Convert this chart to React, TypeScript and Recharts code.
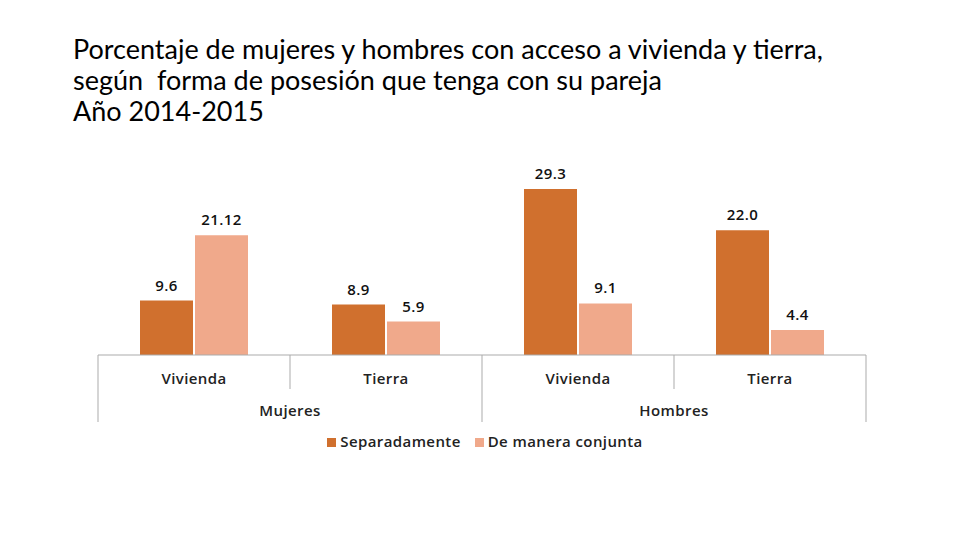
import React from "react"
import { BarChart, Bar, XAxis, YAxis, Legend, LabelList } from "recharts"

const categories = ["Vivienda", "Tierra", "Vivienda", "Tierra"]
const groups = ["Mujeres", "Mujeres", "Hombres", "Hombres"]
const separadamente = [9.6, 8.9, 29.3, 22.0]
const conjunta = [21.12, 5.9, 9.1, 4.4]
const sepLabels = ["9.6", "8.9", "29.3", "22.0"]
const conjLabels = ["21.12", "5.9", "9.1", "4.4"]

const data = categories.map((cat, i) => ({
  cat,
  grp: groups[i],
  sep: separadamente[i],
  conj: conjunta[i],
  sepLabel: sepLabels[i],
  conjLabel: conjLabels[i],
}))

const DARK = "#D0702E"
const LIGHT = "#F0A98B"
const GRID = "#ABABAB"
const FONT = "'Open Sans', sans-serif"
const HALF = 96 // half of one category band
const TXT = { fontFamily: FONT, fontSize: 15, fontWeight: 600, letterSpacing: 0.4 }

function CatTick(props: any) {
  const { x, y, payload, index } = props
  const outer = index === 0 || index === 2
  return (
    <g>
      <line x1={x - HALF} x2={x - HALF} y1={y} y2={y + (outer ? 67 : 34)} stroke={GRID} />
      {index === 3 && <line x1={x + HALF} x2={x + HALF} y1={y} y2={y + 67} stroke={GRID} />}
      <text x={x} y={y + 29} textAnchor="middle" fill="#222" style={TXT}>
        {payload.value}
      </text>
    </g>
  )
}

function GrpTick(props: any) {
  const { x, y, payload } = props
  return (
    <text x={x} y={y + 28} textAnchor="middle" fill="#222" style={TXT}>
      {payload.value}
    </text>
  )
}

export default function App() {
  return (
    <div style={{ position: "absolute", left: 0, top: 0, width: 960, height: 540, background: "#fff" }}>
      <div style={{ position: "absolute", left: 73, top: 33, fontFamily: "Lato, sans-serif", fontSize: 27, lineHeight: "31px", color: "#000" }}>
        <div>Porcentaje de mujeres y hombres con acceso a vivienda y tierra,</div>
        <div style={{ whiteSpace: "pre" }}>según  forma de posesión que tenga con su pareja</div>
        <div>Año 2014-2015</div>
      </div>
      <div style={{ position: "absolute", left: 0, top: 0 }}>
        <BarChart width={960} height={540} data={data} margin={{ top: 185, right: 94, left: 98, bottom: 98 }} barGap={2} barSize={53}>
          <YAxis hide domain={[0, 30]} />
          <XAxis dataKey="cat" axisLine={{ stroke: GRID }} tickLine={false} tickSize={0} tickMargin={0} height={33} tick={<CatTick />} interval={0} />
          <XAxis xAxisId="grp" dataKey="grp" allowDuplicatedCategory={false} axisLine={false} tickLine={false} tickSize={0} tickMargin={0} height={34} tick={<GrpTick />} interval={0} />
          <Legend
            verticalAlign="bottom"
            iconType="square"
            iconSize={9}
            itemSorter={null as any}
            wrapperStyle={{ top: 431, left: 12, width: 960, ...TXT }}
            formatter={(v: string) => <span style={{ color: "#222", marginRight: 4 }}>{v}</span>}
          />
          <Bar dataKey="sep" name="Separadamente" fill={DARK} isAnimationActive={false}>
            <LabelList dataKey="sepLabel" position="top" offset={10} style={{ ...TXT, fill: "#111" }} />
          </Bar>
          <Bar dataKey="conj" name="De manera conjunta" fill={LIGHT} isAnimationActive={false}>
            <LabelList dataKey="conjLabel" position="top" offset={10} style={{ ...TXT, fill: "#111" }} />
          </Bar>
        </BarChart>
      </div>
    </div>
  )
}
